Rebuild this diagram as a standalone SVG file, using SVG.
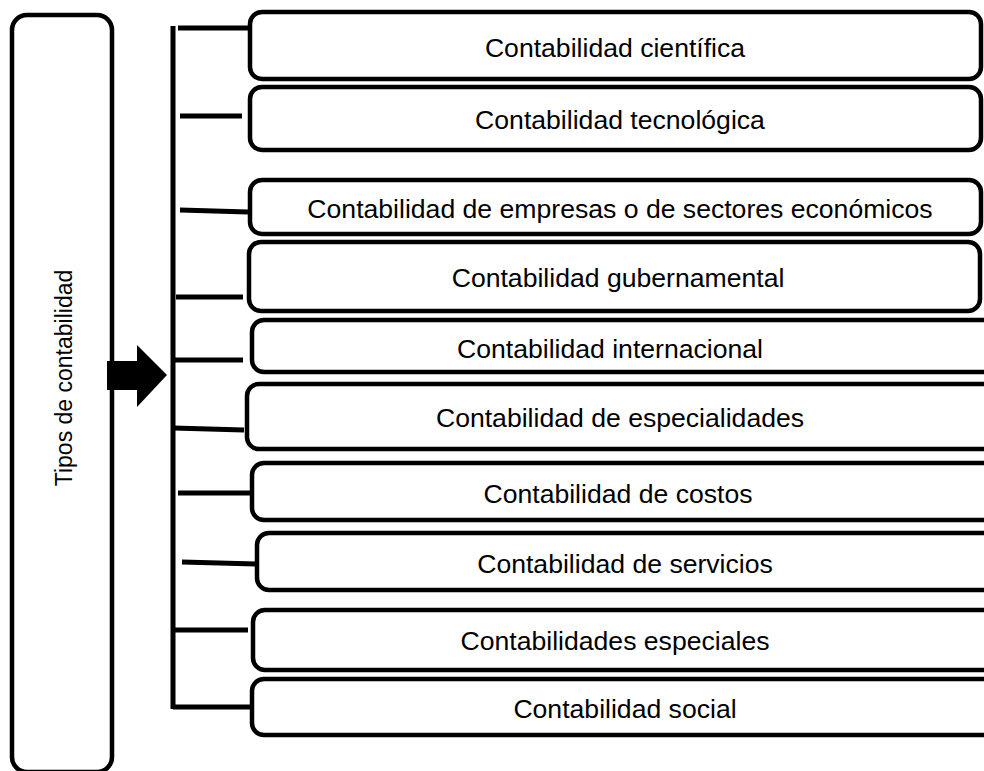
<svg xmlns="http://www.w3.org/2000/svg" width="984" height="771" viewBox="0 0 984 771">
<style>
.box{fill:#fff;stroke:#000;stroke-width:4.5}
.lbl{font-family:"Liberation Sans",Arial,sans-serif;font-size:26.6px;fill:#000;text-anchor:middle}
.con{stroke:#000;stroke-width:5;fill:none}
</style>
<rect x="0" y="0" width="984" height="771" fill="#fff"/>
<g id="root">
<rect class="box" x="12" y="15" width="100" height="757" rx="15"/>
<text class="lbl" style="font-size:23px" transform="translate(72,378) rotate(-90)">Tipos de contabilidad</text>
</g>
<g id="connectors">
<polygon points="107,361 137,361 137,345 167,375 137,407 137,390 107,390" fill="#000"/>
<line class="con" x1="173" y1="26" x2="173" y2="709"/>
<line class="con" x1="173" y1="707" x2="259" y2="707"/>
<line class="con" x1="178" y1="28" x2="248" y2="28"/>
<line class="con" x1="180" y1="116" x2="242" y2="116"/>
<line class="con" x1="180" y1="210" x2="248" y2="212"/>
<line class="con" x1="176" y1="297" x2="243" y2="297"/>
<line class="con" x1="175" y1="360" x2="243" y2="360"/>
<line class="con" x1="173" y1="428" x2="244" y2="430"/>
<line class="con" x1="178" y1="493" x2="252" y2="493"/>
<line class="con" x1="182" y1="562" x2="257" y2="564"/>
<line class="con" x1="173" y1="630" x2="248" y2="630"/>
</g>
<g id="n1"><rect class="box" x="250" y="12" width="731" height="67" rx="12"/><text class="lbl" x="615" y="57">Contabilidad científica</text></g>
<g id="n2"><rect class="box" x="250" y="87" width="731" height="63" rx="12"/><text class="lbl" x="620" y="129">Contabilidad tecnológica</text></g>
<g id="n3"><rect class="box" x="250" y="180" width="731" height="54" rx="12"/><text class="lbl" x="620" y="218">Contabilidad de empresas o de sectores económicos</text></g>
<g id="n4"><rect class="box" x="249" y="242" width="731" height="69" rx="12"/><text class="lbl" x="618" y="287">Contabilidad gubernamental</text></g>
<g id="n5"><rect class="box" x="252" y="320" width="750" height="52" rx="12"/><text class="lbl" x="610" y="358">Contabilidad internacional</text></g>
<g id="n6"><rect class="box" x="247" y="384" width="755" height="65" rx="12"/><text class="lbl" x="620" y="427">Contabilidad de especialidades</text></g>
<g id="n7"><rect class="box" x="252" y="463" width="750" height="57" rx="12"/><text class="lbl" x="618" y="503">Contabilidad de costos</text></g>
<g id="n8"><rect class="box" x="257" y="533" width="745" height="57" rx="12"/><text class="lbl" x="625" y="573">Contabilidad de servicios</text></g>
<g id="n9"><rect class="box" x="253" y="610" width="750" height="60" rx="12"/><text class="lbl" x="615" y="650">Contabilidades especiales</text></g>
<g id="n10"><rect class="box" x="252" y="679" width="750" height="56" rx="12"/><text class="lbl" x="625" y="718">Contabilidad social</text></g>
</svg>
